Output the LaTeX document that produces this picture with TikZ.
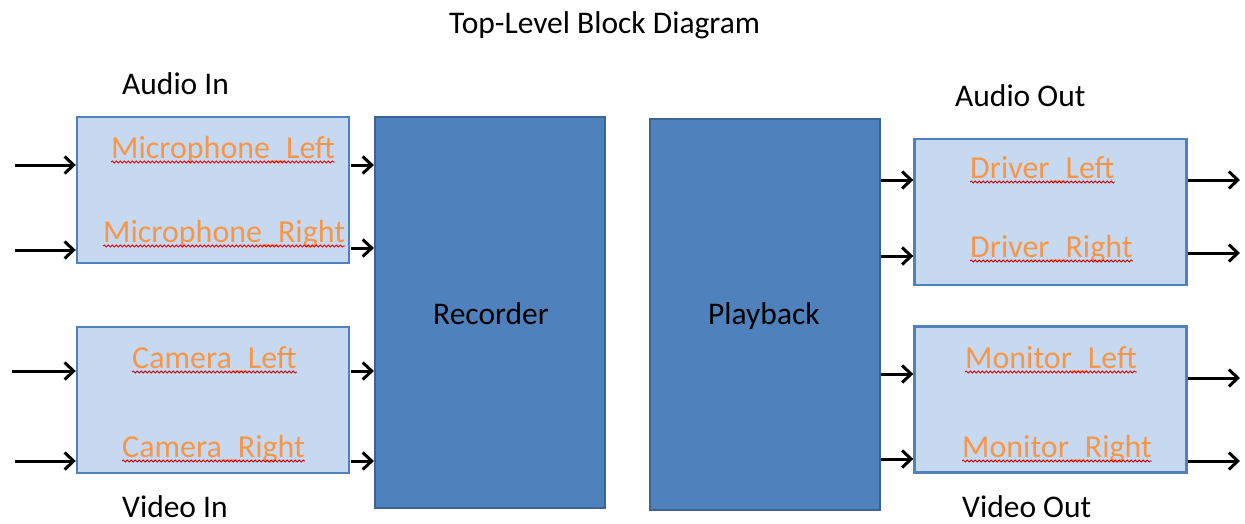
\documentclass[tikz,border=0pt]{standalone}
\usepackage{fontspec}
\setmainfont{Carlito}
\usetikzlibrary{arrows.meta,decorations.pathmorphing}
\definecolor{lightfill}{HTML}{C6D9F1}
\definecolor{lightedge}{HTML}{4F81BD}
\definecolor{darkfill}{HTML}{4F81BD}
\definecolor{darkedge}{HTML}{3A6396}
\definecolor{sigorange}{HTML}{F79646}
\tikzset{
  subblock/.style={draw=lightedge, fill=lightfill, line width=2.4pt, minimum width=272pt, minimum height=146pt, inner sep=0pt},
  coreblock/.style={draw=darkedge, fill=darkfill, line width=2.2pt, minimum width=230pt, minimum height=391pt, inner sep=0pt},
  sig/.style={text=sigorange, inner sep=0pt, anchor=base west, font=\fontsize{32}{38}\selectfont},
  caption/.style={inner sep=0pt, anchor=base west, font=\fontsize{31.5}{37}\selectfont},
  wire/.style={line width=3pt, -{Straight Barb[length=9pt,width=17pt,line width=3pt]}},
  squiggle/.style={draw=red!85!black, line width=0.8pt, decorate, decoration={snake, amplitude=1pt, segment length=4pt}}
}
\begin{document}
\begin{tikzpicture}[x=1pt, y=-1pt]
\useasboundingbox (0,0) rectangle (1245,523);

% title and group captions
\node[caption] (title) at (449,33) {Top-Level Block Diagram};
\node[caption] (audioin) at (122,94) {Audio In};
\node[caption] (videoin) at (122,517) {Video In};
\node[caption] (audioout) at (955,106) {Audio Out};
\node[caption] (videoout) at (962,517) {Video Out};

% input/output blocks
\node[subblock] (mic) at (213,190) {};
\node[subblock] (cam) at (213,400) {};
\node[subblock] (drv) at (1050.5,212) {};
\node[subblock] (mon) at (1050.5,399.5) {};

% core blocks
\node[coreblock] (rec) at (490,312.5) {};
\node[coreblock] (play) at (765,314.5) {};
\node[caption] (reclbl) at (433,324) {Recorder};
\node[caption] (playlbl) at (708,324) {Playback};

% signal names
\node[sig] (micl) at (111,158) {Microphone\_Left};
\node[sig] (micr) at (103,242) {Microphone\_Right};
\node[sig] (caml) at (132,368) {Camera\_Left};
\node[sig] (camr) at (122,457) {Camera\_Right};
\node[sig] (drvl) at (970,178) {Driver\_Left};
\node[sig] (drvr) at (970,257) {Driver\_Right};
\node[sig] (monl) at (965,368) {Monitor\_Left};
\node[sig] (monr) at (962,457) {Monitor\_Right};

% spell-check underlines
\foreach \n in {micl,micr,caml,camr,drvl,drvr,monl,monr}{
  \draw[squiggle] ([yshift=-4pt]\n.base west) -- ([yshift=-4pt]\n.base east);
}

% external inputs
\coordinate (in1) at (15,165);
\coordinate (in2) at (15,250);
\coordinate (in3) at (12,371);
\coordinate (in4) at (15,461);
\draw[wire] (in1) -- (in1 -| mic.west);
\draw[wire] (in2) -- (in2 -| mic.west);
\draw[wire] (in3) -- (in3 -| cam.west);
\draw[wire] (in4) -- (in4 -| cam.west);

% inputs to recorder
\coordinate (r1) at (351,165);
\coordinate (r2) at (351,248);
\coordinate (r3) at (351,371);
\coordinate (r4) at (351,461);
\draw[wire] (r1) -- (r1 -| rec.west);
\draw[wire] (r2) -- (r2 -| rec.west);
\draw[wire] (r3) -- (r3 -| rec.west);
\draw[wire] (r4) -- (r4 -| rec.west);

% playback to outputs
\coordinate (p1) at (881,180);
\coordinate (p2) at (881,256);
\coordinate (p3) at (881,374);
\coordinate (p4) at (881,459);
\draw[wire] (p1) -- (p1 -| drv.west);
\draw[wire] (p2) -- (p2 -| drv.west);
\draw[wire] (p3) -- (p3 -| mon.west);
\draw[wire] (p4) -- (p4 -| mon.west);

% external outputs
\coordinate (o1) at (1240,180);
\coordinate (o2) at (1240,253);
\coordinate (o3) at (1240,378);
\coordinate (o4) at (1240,461);
\draw[wire] (o1 -| drv.east) -- (o1);
\draw[wire] (o2 -| drv.east) -- (o2);
\draw[wire] (o3 -| mon.east) -- (o3);
\draw[wire] (o4 -| mon.east) -- (o4);
\end{tikzpicture}
\end{document}
